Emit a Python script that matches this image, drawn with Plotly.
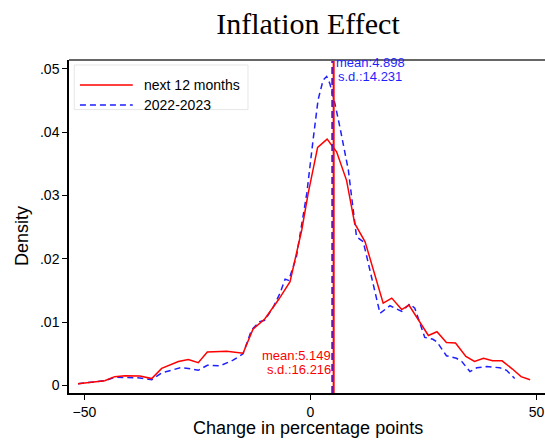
import plotly.graph_objects as go

# next 12 months (red, solid)
red_x = [-51.4, -45.5, -43.3, -41.0, -37.7, -35.1, -32.9, -29.2, -27.0, -24.8, -22.8, -20.8, -18.5,
         -14.9, -12.7, -10.1, -7.1, -4.5, -3.4, -1.9, -0.5, 1.6, 3.7, 5.8, 8.0, 9.8, 12.1, 16.1,
         18.0, 20.2, 21.8, 26.1, 28.0, 30.1, 32.1, 34.4, 36.3, 38.3, 40.3, 42.4, 44.7, 46.6, 48.6]
red_y = [0.00028, 0.00076, 0.0014, 0.00155, 0.0015, 0.0011, 0.0027, 0.0038, 0.0041, 0.0036, 0.0053,
         0.0054, 0.0054, 0.0051, 0.0089, 0.0105, 0.0135, 0.0164, 0.0198, 0.0246, 0.0303, 0.0376,
         0.0389, 0.0369, 0.0324, 0.0256, 0.0227, 0.0130, 0.0138, 0.0120, 0.0127, 0.0079, 0.0085,
         0.0068, 0.0067, 0.0046, 0.0038, 0.0043, 0.0039, 0.0039, 0.0026, 0.0014, 0.0009]

# 2022-2023 (blue, dashed)
blue_x = [-51.4, -45.5, -43.3, -37.7, -35.1, -32.9, -28.8, -27.0, -24.8, -22.8, -20.0, -17.1, -14.9,
          -13.0, -11.2, -10.1, -8.2, -6.7, -5.6, -4.8, -3.1, -1.6, -0.8, 0.6, 1.7, 2.8, 3.6, 4.3,
          5.4, 6.5, 8.4, 10.2, 11.7, 15.4, 17.6, 20.2, 22.0, 23.1, 25.3, 27.1, 28.0, 30.1, 32.3,
          33.5, 35.3, 36.8, 39.0, 41.9, 43.4, 45.2]
blue_y = [0.00028, 0.00076, 0.0013, 0.0012, 0.0009, 0.0020, 0.0028, 0.0027, 0.0024, 0.0032, 0.0031,
          0.0040, 0.0050, 0.0088, 0.0101, 0.0103, 0.0124, 0.0146, 0.0168, 0.0166, 0.0203, 0.0269,
          0.0303, 0.0388, 0.0451, 0.0482, 0.0488, 0.0477, 0.0446, 0.0409, 0.0340, 0.0235, 0.0227,
          0.0114, 0.0126, 0.0117, 0.0129, 0.0122, 0.0076, 0.0073, 0.0069, 0.0047, 0.0043, 0.0038,
          0.0022, 0.0028, 0.0030, 0.0028, 0.0024, 0.0011]

series_names = ["next 12 months", "2022-2023"]
means = [5.149, 4.898]
sds = [16.216, 14.231]

x_ticks = [-50, 0, 50]
y_ticks = [0, 0.01, 0.02, 0.03, 0.04, 0.05]
y_tick_text = ["0", ".01", ".02", ".03", ".04", ".05"]

RED = "#ff0000"
BLUE = "#1f1fff"
SANS = "Arial, Liberation Sans"

fig = go.Figure()
fig.add_trace(go.Scatter(x=blue_x, y=blue_y, mode="lines", name=series_names[1],
                         line=dict(color=BLUE, width=1.5, dash="6px,4px"), showlegend=False))
fig.add_trace(go.Scatter(x=red_x, y=red_y, mode="lines", name=series_names[0],
                         line=dict(color=RED, width=1.5), showlegend=False))

# mean lines
fig.add_shape(type="line", xref="x", yref="paper", x0=means[1], x1=means[1], y0=0, y1=1,
              line=dict(color=BLUE, width=2.5, dash="7px,4px"))
fig.add_shape(type="line", xref="x", yref="paper", x0=means[0], x1=means[0], y0=0, y1=1,
              line=dict(color=RED, width=2))

# top border
fig.add_shape(type="line", xref="paper", yref="paper", x0=0, x1=1, y0=1, y1=1,
              line=dict(color="#666666", width=2))

# manual legend
fig.add_shape(type="rect", xref="paper", yref="paper", x0=0.011, x1=0.376, y0=0.851, y1=0.985,
              line=dict(color="#e6e6e6", width=1), fillcolor="white")
fig.add_shape(type="line", xref="paper", yref="paper", x0=0.023, x1=0.134, y0=0.925, y1=0.925,
              line=dict(color=RED, width=1.5))
fig.add_shape(type="line", xref="paper", yref="paper", x0=0.023, x1=0.134, y0=0.865, y1=0.865,
              line=dict(color=BLUE, width=1.5, dash="6px,4px"))
fig.add_annotation(xref="paper", yref="paper", x=0.153, y=0.925, text=series_names[0],
                   showarrow=False, xanchor="left", yanchor="middle",
                   font=dict(family=SANS, size=14, color="black"))
fig.add_annotation(xref="paper", yref="paper", x=0.153, y=0.865, text=series_names[1],
                   showarrow=False, xanchor="left", yanchor="middle",
                   font=dict(family=SANS, size=14, color="black"))

# mean / sd annotations
afont_b = dict(family=SANS, size=13, color=BLUE)
afont_r = dict(family=SANS, size=13, color=RED)
fig.add_annotation(x=means[1], y=0.0510, text=f"mean:{means[1]:.3f}", showarrow=False,
                   xanchor="left", yanchor="middle", xshift=1, font=afont_b)
fig.add_annotation(x=means[1], y=0.0488, text=f"s.d.:{sds[1]:.3f}", showarrow=False,
                   xanchor="left", yanchor="middle", xshift=3, font=afont_b)
fig.add_annotation(x=means[0], y=0.0048, text=f"mean:{means[0]:.3f}", showarrow=False,
                   xanchor="right", yanchor="middle", xshift=-1, font=afont_r)
fig.add_annotation(x=means[0], y=0.0026, text=f"s.d.:{sds[0]:.3f}", showarrow=False,
                   xanchor="right", yanchor="middle", xshift=-1, font=afont_r)

# axis titles
fig.add_annotation(xref="paper", yref="paper", x=(308 - 69) / 476, y=-(428 - 393) / 333,
                   text="Change in percentage points", showarrow=False,
                   xanchor="center", yanchor="middle", font=dict(family=SANS, size=18, color="black"))
fig.add_annotation(xref="paper", yref="paper", x=-(69 - 22) / 476, y=(393 - 236) / 333,
                   text="Density", showarrow=False, textangle=-90,
                   xanchor="center", yanchor="middle", font=dict(family=SANS, size=18, color="black"))

fig.update_layout(
    width=545, height=441,
    margin=dict(l=69, r=0, t=60, b=48, autoexpand=False),
    paper_bgcolor="white", plot_bgcolor="white",
    title=dict(text="Inflation Effect", x=308 / 545, xanchor="center", y=1 - 23 / 441,
               yanchor="middle",
               font=dict(family="Liberation Serif, Times New Roman, serif", size=30, color="black")),
    showlegend=False,
    font=dict(family=SANS, color="black"),
)
fig.update_xaxes(range=[-53.4, 51.9], tickvals=x_ticks, ticks="outside", ticklen=5,
                 tickcolor="black", showgrid=False, zeroline=False, showline=True,
                 linecolor="black", linewidth=1.5, tickfont=dict(size=14), automargin=False)
fig.update_yaxes(range=[-0.00118, 0.0514], tickvals=y_ticks, ticktext=y_tick_text,
                 ticks="outside", ticklen=5, tickcolor="black", showgrid=False, zeroline=False,
                 showline=True, linecolor="black", linewidth=1.5, tickfont=dict(size=14),
                 automargin=False)

fig.write_html("out.html", config={"displayModeBar": False},
               post_script="document.body.style.margin='0';document.body.style.overflow='hidden';")
